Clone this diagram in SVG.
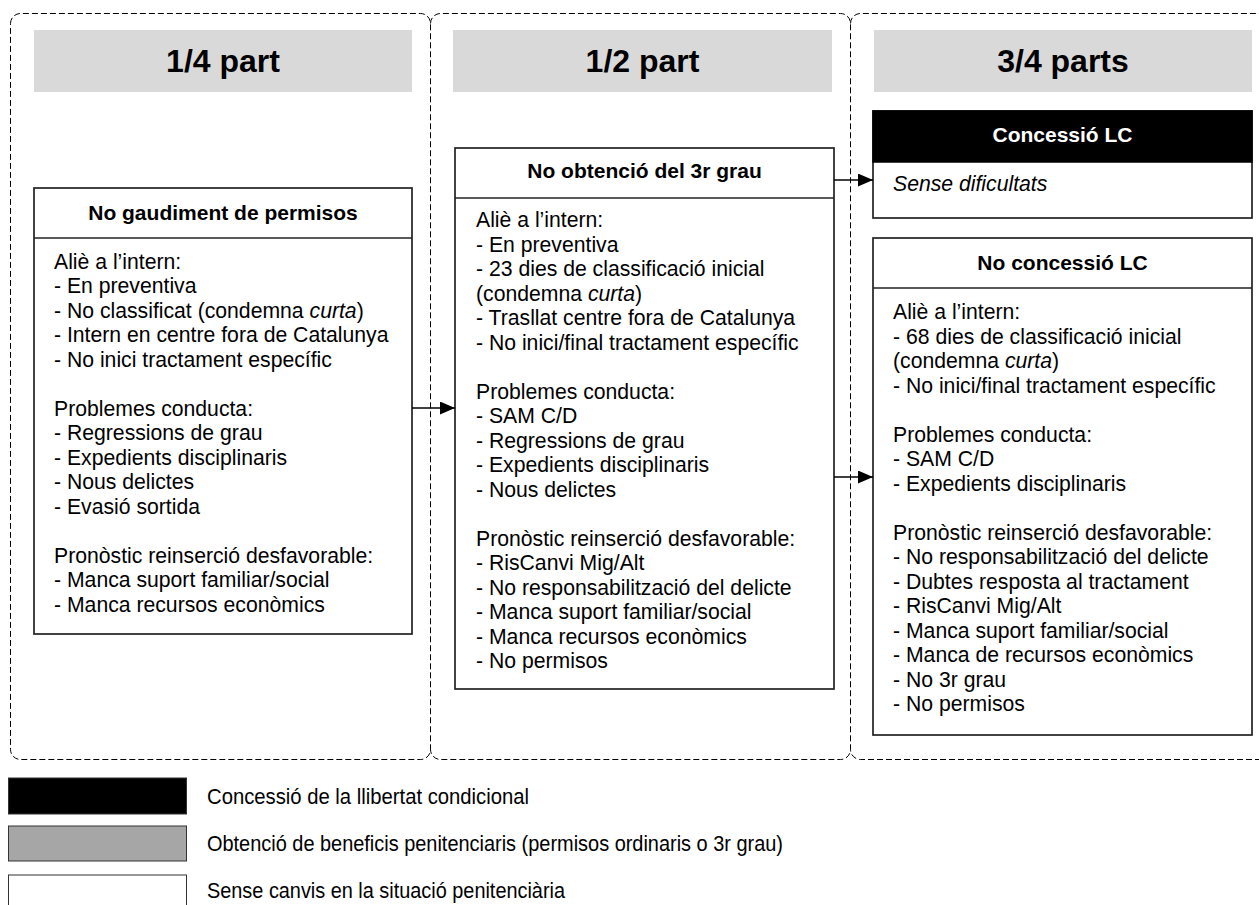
<svg xmlns="http://www.w3.org/2000/svg" width="1259" height="905" viewBox="0 0 1259 905">
<defs>
<style>
.panel{fill:none;stroke:#000;stroke-width:1;stroke-dasharray:6,3}
.hdr{fill:#d9d9d9}
.hdrt{font-family:"Liberation Sans",Arial,sans-serif;font-weight:bold;font-size:32px;fill:#000;text-anchor:middle}
.box{fill:#fff;stroke:#222;stroke-width:1.7}
.ttl{font-family:"Liberation Sans",Arial,sans-serif;font-weight:bold;font-size:21px;fill:#000;text-anchor:middle}
.body{font-family:"Liberation Sans",Arial,sans-serif;font-size:21.2px;fill:#000}
.conn{stroke:#000;stroke-width:1.6;fill:none}
.leg{font-family:"Liberation Sans",Arial,sans-serif;font-size:22px;fill:#000}
</style>
<marker id="ah" markerUnits="userSpaceOnUse" markerWidth="16" markerHeight="13" refX="15" refY="6.5" orient="auto">
<path d="M0,0 L15,6.5 L0,13 Z" fill="#000"/>
</marker>
</defs>
<rect x="0" y="0" width="1259" height="905" fill="#fff"/>

<g id="panels">
<path class="panel" d="M10.5,23.5 A10,10 0 0 1 20.5,13.5 H420.5 A10,10 0 0 1 430.5,23.5 V749.5 A10,10 0 0 1 420.5,759.5 H20.5 A10,10 0 0 1 10.5,749.5 Z"/>
<path class="panel" d="M430.5,23.5 A10,10 0 0 1 440.5,13.5 H840.5 A10,10 0 0 1 850.5,23.5 V749.5 A10,10 0 0 1 840.5,759.5 H440.5 A10,10 0 0 1 430.5,749.5"/>
<path class="panel" d="M850.5,23.5 A10,10 0 0 1 860.5,13.5 H1270 M1270,759.5 H860.5 A10,10 0 0 1 850.5,749.5"/>
</g>

<g id="header-1">
<rect class="hdr" x="34" y="30" width="378" height="62"/>
<text class="hdrt" x="223" y="72">1/4 part</text>
</g>
<g id="header-2">
<rect class="hdr" x="453" y="30" width="379" height="62"/>
<text class="hdrt" x="642.5" y="72">1/2 part</text>
</g>
<g id="header-3">
<rect class="hdr" x="874" y="30" width="378" height="62"/>
<text class="hdrt" x="1063" y="72">3/4 parts</text>
</g>

<g id="node-no-gaudiment">
<rect class="box" x="34" y="188" width="378" height="446"/>
<line class="box" x1="34" y1="238" x2="412" y2="238"/>
<text class="ttl" x="223" y="220">No gaudiment de permisos</text>
<text class="body">
<tspan x="54" y="268.5">Aliè a l’intern:</tspan>
<tspan x="54" dy="24.5">- En preventiva</tspan>
<tspan x="54" dy="24.5">- No classificat (condemna <tspan font-style="italic">curta</tspan>)</tspan>
<tspan x="54" dy="24.5">- Intern en centre fora de Catalunya</tspan>
<tspan x="54" dy="24.5">- No inici tractament específic</tspan>
<tspan x="54" dy="49">Problemes conducta:</tspan>
<tspan x="54" dy="24.5">- Regressions de grau</tspan>
<tspan x="54" dy="24.5">- Expedients disciplinaris</tspan>
<tspan x="54" dy="24.5">- Nous delictes</tspan>
<tspan x="54" dy="24.5">- Evasió sortida</tspan>
<tspan x="54" dy="49">Pronòstic reinserció desfavorable:</tspan>
<tspan x="54" dy="24.5">- Manca suport familiar/social</tspan>
<tspan x="54" dy="24.5">- Manca recursos econòmics</tspan>
</text>
</g>

<g id="node-no-obtencio">
<rect class="box" x="455" y="148" width="379" height="541"/>
<line class="box" x1="455" y1="198" x2="834" y2="198"/>
<text class="ttl" x="644.5" y="178">No obtenció del 3r grau</text>
<text class="body">
<tspan x="476" y="227">Aliè a l’intern:</tspan>
<tspan x="476" dy="24.5">- En preventiva</tspan>
<tspan x="476" dy="24.5">- 23 dies de classificació inicial</tspan>
<tspan x="476" dy="24.5">(condemna <tspan font-style="italic">curta</tspan>)</tspan>
<tspan x="476" dy="24.5">- Trasllat centre fora de Catalunya</tspan>
<tspan x="476" dy="24.5">- No inici/final tractament específic</tspan>
<tspan x="476" dy="49">Problemes conducta:</tspan>
<tspan x="476" dy="24.5">- SAM C/D</tspan>
<tspan x="476" dy="24.5">- Regressions de grau</tspan>
<tspan x="476" dy="24.5">- Expedients disciplinaris</tspan>
<tspan x="476" dy="24.5">- Nous delictes</tspan>
<tspan x="476" dy="49">Pronòstic reinserció desfavorable:</tspan>
<tspan x="476" dy="24.5">- RisCanvi Mig/Alt</tspan>
<tspan x="476" dy="24.5">- No responsabilització del delicte</tspan>
<tspan x="476" dy="24.5">- Manca suport familiar/social</tspan>
<tspan x="476" dy="24.5">- Manca recursos econòmics</tspan>
<tspan x="476" dy="24.5">- No permisos</tspan>
</text>
</g>

<g id="node-concessio">
<rect class="box" x="873" y="111" width="379" height="107"/>
<rect x="873" y="111" width="379" height="51" fill="#000" stroke="#000" stroke-width="1.5"/>
<text class="ttl" x="1062.5" y="142" style="fill:#fff">Concessió LC</text>
<text class="body" x="893" y="191" font-style="italic">Sense dificultats</text>
</g>

<g id="node-no-concessio">
<rect class="box" x="873" y="238" width="379" height="497"/>
<line class="box" x1="873" y1="288" x2="1252" y2="288"/>
<text class="ttl" x="1062.5" y="270">No concessió LC</text>
<text class="body">
<tspan x="893" y="319">Aliè a l’intern:</tspan>
<tspan x="893" dy="24.5">- 68 dies de classificació inicial</tspan>
<tspan x="893" dy="24.5">(condemna <tspan font-style="italic">curta</tspan>)</tspan>
<tspan x="893" dy="24.5">- No inici/final tractament específic</tspan>
<tspan x="893" dy="49">Problemes conducta:</tspan>
<tspan x="893" dy="24.5">- SAM C/D</tspan>
<tspan x="893" dy="24.5">- Expedients disciplinaris</tspan>
<tspan x="893" dy="49">Pronòstic reinserció desfavorable:</tspan>
<tspan x="893" dy="24.5">- No responsabilització del delicte</tspan>
<tspan x="893" dy="24.5">- Dubtes resposta al tractament</tspan>
<tspan x="893" dy="24.5">- RisCanvi Mig/Alt</tspan>
<tspan x="893" dy="24.5">- Manca suport familiar/social</tspan>
<tspan x="893" dy="24.5">- Manca de recursos econòmics</tspan>
<tspan x="893" dy="24.5">- No 3r grau</tspan>
<tspan x="893" dy="24.5">- No permisos</tspan>
</text>
</g>

<g id="connectors">
<line class="conn" x1="412" y1="408" x2="455" y2="408" marker-end="url(#ah)"/>
<line class="conn" x1="834" y1="180" x2="873" y2="180" marker-end="url(#ah)"/>
<line class="conn" x1="834" y1="477" x2="873" y2="477" marker-end="url(#ah)"/>
</g>

<g id="legend">
<rect x="8.5" y="778" width="178" height="36" fill="#000" stroke="#333" stroke-width="1"/>
<text class="leg" x="207" y="804" textLength="322" lengthAdjust="spacingAndGlyphs">Concessió de la llibertat condicional</text>
<rect x="8.5" y="826" width="178" height="35" fill="#a6a6a6" stroke="#333" stroke-width="1"/>
<text class="leg" x="207" y="851" textLength="576" lengthAdjust="spacingAndGlyphs">Obtenció de beneficis penitenciaris (permisos ordinaris o 3r grau)</text>
<rect x="8.5" y="875" width="178" height="40" fill="#fff" stroke="#333" stroke-width="1"/>
<text class="leg" x="207" y="898" textLength="358" lengthAdjust="spacingAndGlyphs">Sense canvis en la situació penitenciària</text>
</g>
</svg>
